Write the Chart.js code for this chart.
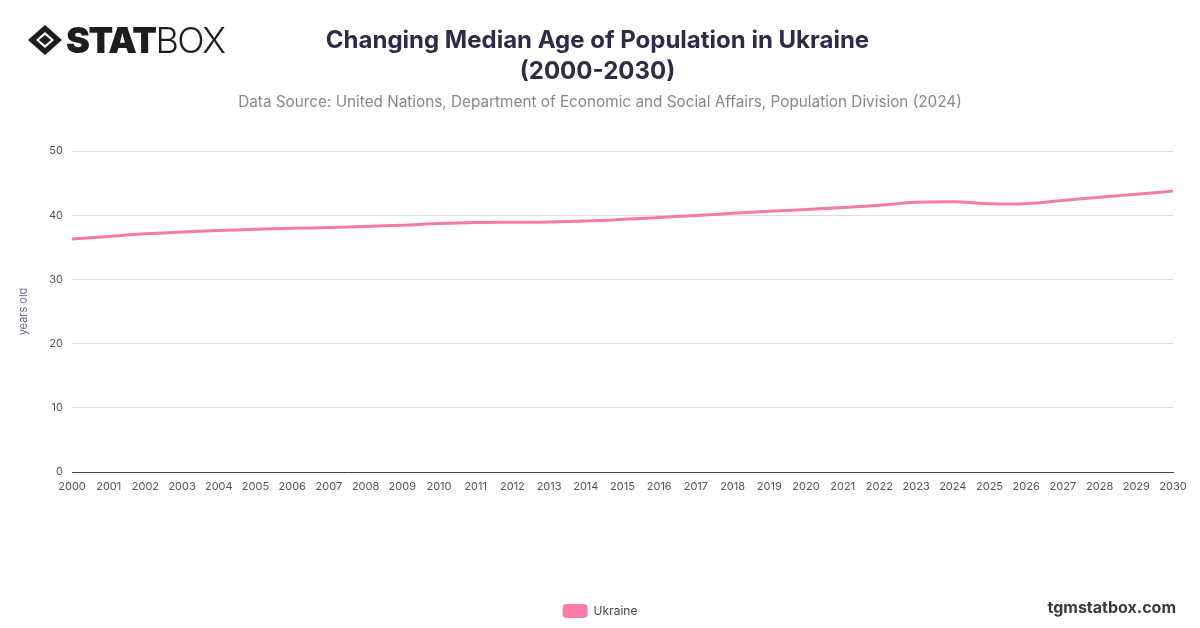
<!DOCTYPE html>
<html>
<head>
<meta charset="utf-8">
<script src="https://cdn.jsdelivr.net/npm/chart.js@4"></script>
<style>
  html, body { margin: 0; padding: 0; background: #fff; }
  body { width: 1200px; height: 628px; position: relative; overflow: hidden; font-family: Inter, "Noto Sans", sans-serif; }
  #chart { position: absolute; left: 0; top: 0; }
  .logo { position: absolute; left: 27px; top: 22px; height: 36px; display: flex; align-items: center; color: #1d1d1f; }
  .logo svg { margin-right: 3px; }
  .logo .stat { font-family: Inter, sans-serif; font-weight: 900; font-size: 36px; letter-spacing: -1.5px; }
  .logo .box { font-family: Inter, sans-serif; font-weight: 300; font-size: 36px; letter-spacing: -1.5px; }
  .title { position: absolute; left: 0; width: 1195px; top: 24px; text-align: center; font-weight: 700; font-size: 24px; line-height: 31px; color: #2e2b4a; }
  .subtitle { position: absolute; left: 0; width: 1200px; top: 92px; text-align: center; font-size: 15.3px; color: #888; }
  .site { position: absolute; right: 24px; top: 597px; font-weight: 700; font-size: 16px; color: #3a3a3a; }
</style>
</head>
<body>
<canvas id="chart" width="1200" height="628"></canvas>
<div class="logo">
  <svg width="36" height="32" viewBox="0 0 36 32">
    <path d="M18 1 L35 16 L18 31 L1 16 Z" fill="#1d1d1f"/>
    <path d="M18 8 L27 16 L18 24 L9 16 Z" fill="#fff"/>
    <path d="M18 11 L24 16 L18 21 L12 16 Z" fill="#1d1d1f"/>
  </svg>
  <span class="stat">STAT</span><span class="box">BOX</span>
</div>
<div class="title">Changing Median Age of Population in Ukraine<br>(2000-2030)</div>
<div class="subtitle">Data Source: United Nations, Department of Economic and Social Affairs, Population Division (2024)</div>
<div class="site">tgmstatbox.com</div>
<script>
'use strict';

const years = [
  '2000', '2001', '2002', '2003', '2004', '2005', '2006', '2007', '2008', '2009',
  '2010', '2011', '2012', '2013', '2014', '2015', '2016', '2017', '2018', '2019',
  '2020', '2021', '2022', '2023', '2024', '2025', '2026', '2027', '2028', '2029', '2030',
];
const medianAge = [
  36.3, 36.7, 37.1, 37.4, 37.6, 37.8, 37.95, 38.1, 38.25, 38.45,
  38.7, 38.85, 38.9, 38.95, 39.1, 39.35, 39.65, 39.95, 40.3, 40.6,
  40.9, 41.2, 41.55, 42.0, 42.1, 41.8, 41.8, 42.3, 42.8, 43.25, 43.75,
];
const yTicks = [0, 10, 20, 30, 40, 50];

const chartData = {
  labels: years,
  datasets: [
    {
      label: 'Ukraine',
      data: medianAge,
      borderColor: '#f37ba5',
      backgroundColor: '#fb7dab',
      borderWidth: 3,
      pointRadius: 0,
      tension: 0.4,
    },
  ],
};

const options = {
  responsive: false,
  animation: false,
  layout: {
    padding: { top: 151, right: 0, bottom: 0, left: 0 },
  },
  scales: {
    x: {
      grid: { display: false, drawTicks: false },
      border: { display: true, color: '#444', width: 1 },
      ticks: {
        color: '#555',
        font: { size: 11, family: 'Inter' },
        maxRotation: 0,
        autoSkip: false,
        padding: 8,
      },
      afterFit: function (scale) {
        scale.height = 122;
      },
    },
    y: {
      min: 0,
      max: 50,
      afterBuildTicks: function (scale) {
        scale.ticks = yTicks.map((v) => ({ value: v }));
      },
      grid: { color: '#dcdcdc', drawTicks: false },
      border: { display: false },
      ticks: {
        color: '#555',
        font: { size: 11, family: 'Inter' },
        padding: 9,
      },
      title: {
        display: true,
        text: 'years old',
        color: '#6b6f86',
        font: { size: 11, family: 'Inter' },
        padding: { top: 17, bottom: 0 },
      },
      afterFit: function (scale) {
        scale.width = 72;
      },
    },
    // empty right-hand margin, so the legend stays centred on the page
    spacer: {
      position: 'right',
      display: true,
      grid: { display: false, drawTicks: false },
      border: { display: false },
      ticks: { display: false },
      afterFit: function (scale) {
        scale.width = 27;
      },
    },
  },
  plugins: {
    legend: {
      display: true,
      position: 'bottom',
      labels: {
        boxWidth: 25,
        boxHeight: 14,
        useBorderRadius: true,
        borderRadius: 4,
        color: '#444',
        font: { size: 12, family: 'Inter' },
        generateLabels: function (chart) {
          return chart.data.datasets.map((ds, i) => ({
            text: ds.label,
            fillStyle: ds.backgroundColor,
            strokeStyle: ds.backgroundColor,
            lineWidth: 0,
            borderRadius: 4,
            datasetIndex: i,
            fontColor: '#444',
          }));
        },
      },
    },
    tooltip: { enabled: false },
  },
};

const ctx = document.getElementById('chart');
new Chart(ctx, { type: 'line', data: chartData, options: options });
</script>
</body>
</html>
